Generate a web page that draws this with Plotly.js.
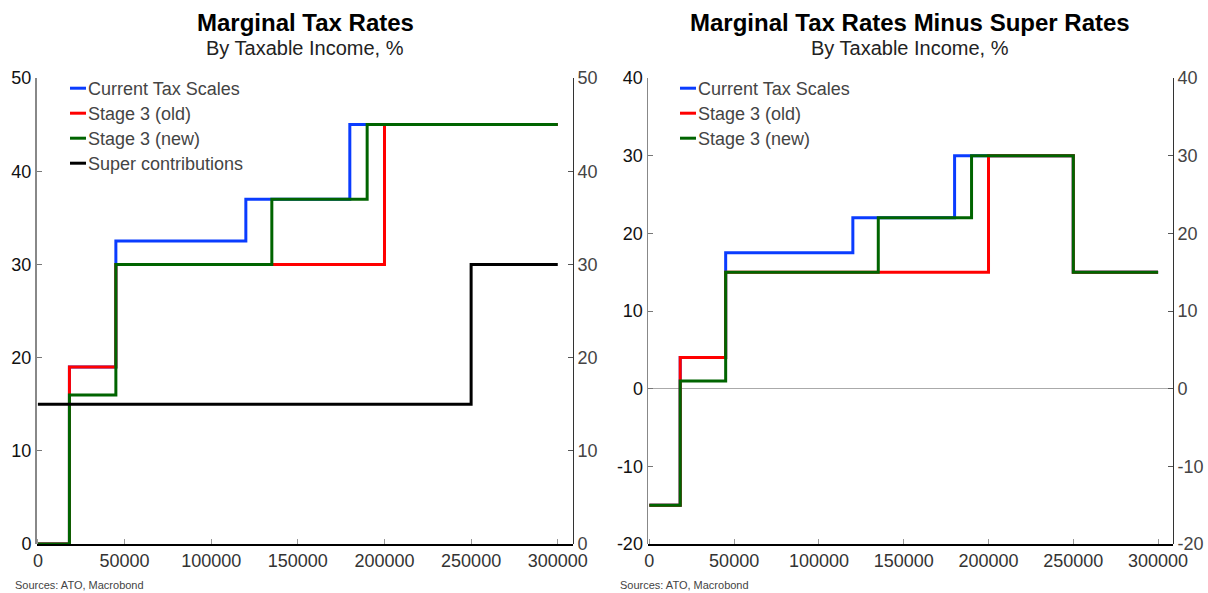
<!DOCTYPE html>
<html><head><meta charset="utf-8">
<script src="https://cdn.plot.ly/plotly-3.0.1.min.js"></script>
<style>html,body{margin:0;padding:0;background:#fff}#c{width:1208px;height:593px}</style>
</head><body><div id="c"></div>
<script>
// Income thresholds (A$)
const curX = [0, 18200, 45000, 120000, 180000, 300000];
const oldX = [0, 18200, 45000, 200000, 300000];
const newX = [0, 18200, 45000, 135000, 190000, 300000];
const supX = [0, 250000, 300000];
// Marginal tax rates, %
const curY = [0, 19, 32.5, 37, 45, 45];
const oldY = [0, 19, 30, 45, 45];
const newY = [0, 16, 30, 37, 45, 45];
const supY = [15, 30, 30];
// Marginal tax rates minus super rates, %
const curDX = [0, 18200, 45000, 120000, 180000, 250000, 300000];
const oldDX = [0, 18200, 45000, 200000, 250000, 300000];
const newDX = [0, 18200, 45000, 135000, 190000, 250000, 300000];
const curD = [-15, 4, 17.5, 22, 30, 15, 15];
const oldD = [-15, 4, 15, 30, 15, 15];
const newD = [-15, 1, 15, 22, 30, 15, 15];
const xTicks = [0, 50000, 100000, 150000, 200000, 250000, 300000];
const yTicks1 = [0, 10, 20, 30, 40, 50];
const yTicks2 = [-20, -10, 0, 10, 20, 30, 40];
const yTickText2 = ['-20', '-10', '0', '10', '20', '30', '40'];

const names = ['Current Tax Scales', 'Stage 3 (old)', 'Stage 3 (new)', 'Super contributions'];
const colors = ['#0a3cff', '#ff0000', '#006400', '#000000'];

function tr(x, y, i, xa, ya, leg) {
  return {x: x, y: y, type: 'scatter', mode: 'lines', name: names[i],
    line: {shape: 'hv', width: 3, color: colors[i]}, xaxis: xa, yaxis: ya, legend: leg,
    hoverinfo: 'skip'};
}
const data = [
  tr(curX, curY, 0, 'x', 'y', 'legend'),
  tr(oldX, oldY, 1, 'x', 'y', 'legend'),
  tr(newX, newY, 2, 'x', 'y', 'legend'),
  tr(supX, supY, 3, 'x', 'y', 'legend'),
  tr(curDX, curD, 0, 'x2', 'y3', 'legend2'),
  tr(oldDX, oldD, 1, 'x2', 'y3', 'legend2'),
  tr(newDX, newD, 2, 'x2', 'y3', 'legend2'),
  // invisible traces to activate right-side axes
  {x: [0], y: [0], xaxis: 'x', yaxis: 'y2', mode: 'markers', marker: {opacity: 0}, showlegend: false, hoverinfo: 'skip'},
  {x: [0], y: [0], xaxis: 'x2', yaxis: 'y4', mode: 'markers', marker: {opacity: 0}, showlegend: false, hoverinfo: 'skip'}
];

const F = 'Liberation Sans, Arial, sans-serif';
const xd1 = [36.5/1208, 572.5/1208], xd2 = [648/1208, 1172.5/1208];
const yd = [1 - 544/593, 1 - 78/593];
const xBase = {range: [-800, 308500], tickvals: xTicks, ticktext: xTicks.map(String),
  ticks: 'inside', ticklen: 5, tickcolor: '#999', showline: true, linecolor: '#000', linewidth: 1.5,
  showgrid: false, zeroline: false, tickfont: {family: F, size: 18, color: '#333'}, anchor: 'free', position: yd[0]};
const yL = {showline: true, linewidth: 1.5, ticks: 'inside', ticklen: 5, showgrid: false,
  tickfont: {family: F, size: 18, color: '#111'}};
const yR = {tickfont: {family: F, size: 18, color: '#444'}, linecolor: '#333', tickcolor: '#555', zeroline: false, side: 'right'};
const t1 = {tickvals: yTicks1, ticktext: yTicks1.map(String), range: [0, 50]};
const t2 = {tickvals: yTicks2, ticktext: yTickText2, range: [-20, 40]};

const layout = {
  width: 1208, height: 593, margin: {l: 0, r: 0, t: 0, b: 0},
  paper_bgcolor: '#fff', plot_bgcolor: '#fff', font: {family: F},
  xaxis: Object.assign({}, xBase, {domain: xd1}),
  xaxis2: Object.assign({}, xBase, {domain: xd2}),
  yaxis: Object.assign({}, yL, t1, {domain: yd, linecolor: '#888', tickcolor: '#777', zeroline: false, anchor: 'x'}),
  yaxis2: Object.assign({}, yL, yR, t1, {domain: yd, overlaying: 'y', anchor: 'x'}),
  yaxis3: Object.assign({}, yL, t2, {domain: yd, linecolor: '#888', tickcolor: '#777', zeroline: true, zerolinecolor: '#aaa', zerolinewidth: 1.5, anchor: 'x2'}),
  yaxis4: Object.assign({}, yL, yR, t2, {domain: yd, overlaying: 'y3', anchor: 'x2'}),
  legend: {x: 48/1208, y: 1 - 70/593, xanchor: 'left', yanchor: 'top', bgcolor: 'rgba(0,0,0,0)',
    font: {family: F, size: 18, color: '#444'}, tracegroupgap: 0},
  legend2: {x: 658/1208, y: 1 - 70/593, xanchor: 'left', yanchor: 'top', bgcolor: 'rgba(0,0,0,0)',
    font: {family: F, size: 18, color: '#444'}, tracegroupgap: 0},
  showlegend: true,
  annotations: [
    {text: '<b>Marginal Tax Rates</b>', x: 305/1208, y: 1 - 22/593, xref: 'paper', yref: 'paper', showarrow: false, xanchor: 'center', yanchor: 'middle', font: {family: F, size: 24, color: '#000'}},
    {text: 'By Taxable Income, %', x: 305/1208, y: 1 - 48/593, xref: 'paper', yref: 'paper', showarrow: false, xanchor: 'center', yanchor: 'middle', font: {family: F, size: 20, color: '#222'}},
    {text: '<b>Marginal Tax Rates Minus Super Rates</b>', x: 910/1208, y: 1 - 22/593, xref: 'paper', yref: 'paper', showarrow: false, xanchor: 'center', yanchor: 'middle', font: {family: F, size: 24, color: '#000'}},
    {text: 'By Taxable Income, %', x: 910/1208, y: 1 - 48/593, xref: 'paper', yref: 'paper', showarrow: false, xanchor: 'center', yanchor: 'middle', font: {family: F, size: 20, color: '#222'}},
    {text: 'Sources: ATO, Macrobond', x: 13/1208, y: 1 - 585/593, xref: 'paper', yref: 'paper', showarrow: false, xanchor: 'left', yanchor: 'middle', font: {family: F, size: 11, color: '#444'}},
    {text: 'Sources: ATO, Macrobond', x: 618/1208, y: 1 - 585/593, xref: 'paper', yref: 'paper', showarrow: false, xanchor: 'left', yanchor: 'middle', font: {family: F, size: 11, color: '#444'}}
  ]
};
Plotly.newPlot('c', data, layout, {staticPlot: true}).then(function () {
  document.querySelectorAll('.legendlines path').forEach(function (p) { p.setAttribute('d', 'M22,0h16'); });
  // tighten legend row spacing to 25px as in the reference
  document.querySelectorAll('g.legend, g.legend2').forEach(function (lg) {
    var items = lg.querySelectorAll('g.traces');
    if (!items.length) return;
    var m = /translate\(([-\d.]+),\s*([-\d.]+)\)/.exec(items[0].getAttribute('transform') || '');
    if (!m) return;
    var x0 = parseFloat(m[1]), y0 = parseFloat(m[2]);
    items.forEach(function (it, i) { it.setAttribute('transform', 'translate(' + x0 + ',' + (y0 + i * 25) + ')'); });
  });
});
</script></body></html>
